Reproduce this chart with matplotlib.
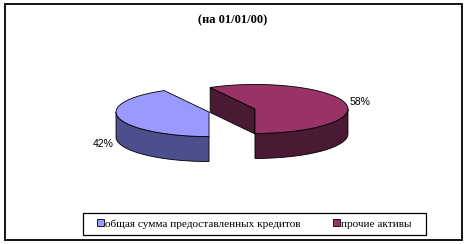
import numpy as np
import matplotlib
matplotlib.use("Agg")
from matplotlib import pyplot as plt
from matplotlib.patches import Polygon, Rectangle

# Data
title = "(на 01/01/00)"
labels = ["общая сумма предоставленных кредитов", "прочие активы"]
values = [42, 58]
top_colors = ["#9999ff", "#993366"]
side_colors = ["#4b4f8c", "#4a1a35"]

# pie geometry (pixel units, y axis pointing down)
cx, cy = 232, 110.5      # centre of the whole pie
a, b = 93, 24.5          # ellipse half axes
h = 25                   # thickness
explode = 0.255
start = 180.0            # first slice starts at 6 o'clock, runs clockwise

fig = plt.figure(figsize=(4.66, 2.44), dpi=100)
ax = fig.add_axes([0, 0, 1, 1])
ax.set_xlim(0, 466)
ax.set_ylim(244, 0)
ax.axis("off")


def rim(x0, y0, t, dz=0.0):
    t = np.radians(t)
    return np.column_stack([x0 + a * np.sin(t), y0 - b * np.cos(t) + dz])


lw = 0.6
total = sum(values)
theta = start
for val, top, side in zip(values, top_colors, side_colors):
    t1 = theta
    t2 = theta + 360.0 * val / total
    theta = t2
    mid = np.radians((t1 + t2) / 2)
    x0 = cx + a * explode * np.sin(mid)
    y0 = cy - b * explode * np.cos(mid)

    # cut faces that look towards the viewer
    for t, vis in [(t1, np.sin(np.radians(t1)) < -1e-6),
                   (t2, np.sin(np.radians(t2)) > 1e-6)]:
        if vis:
            p = rim(x0, y0, [t])[0]
            quad = [(x0, y0), p, (p[0], p[1] + h), (x0, y0 + h)]
            ax.add_patch(Polygon(quad, closed=True, fc=side, ec="black", lw=lw))

    # front part of the outer wall
    for k in range(-1, 3):
        lo = max(t1, 90 + 360 * k)
        hi = min(t2, 270 + 360 * k)
        if hi > lo:
            ts = np.linspace(lo, hi, 80)
            up = rim(x0, y0, ts)
            dn = rim(x0, y0, ts[::-1], h)
            ax.add_patch(Polygon(np.vstack([up, dn]), closed=True,
                                 fc=side, ec="black", lw=lw))

    # top face
    ts = np.linspace(t1, t2, 200)
    pts = np.vstack([[x0, y0], rim(x0, y0, ts)])
    ax.add_patch(Polygon(pts, closed=True, fc=top, ec="black", lw=lw))

    # percent label
    lx = x0 + a * 1.17 * np.sin(mid)
    ly = y0 - b * 1.17 * np.cos(mid) + (h if np.cos(mid) < 0 else 0)
    ax.text(lx, ly, f"{val}%", ha="center", va="center",
            family="Liberation Sans", fontsize=7.5)

ax.text(233, 20, title, ha="center", va="center", family="Liberation Serif",
        fontweight="bold", fontsize=9)

# outer frame
ax.add_patch(Rectangle((5, 4), 457, 236, fill=False, ec="black", lw=1.3))

# legend (entries from matplotlib, box drawn separately)
handles = [Rectangle((0, 0), 1, 1, fc=c, ec="black", lw=0.6) for c in top_colors]
leg = ax.legend(handles, labels, ncol=2, loc="center",
                bbox_to_anchor=(254.5 / 466, 1 - 224 / 244),
                prop={"family": "Liberation Serif", "size": 8.1},
                frameon=False, handlelength=0.55,
                handleheight=0.55, handletextpad=0.15, columnspacing=2.9,
                borderpad=0.4, borderaxespad=0)
ax.add_patch(Rectangle((83, 213), 343, 22, fill=False, ec="black", lw=0.9))

fig.savefig("out.png", dpi=100)
